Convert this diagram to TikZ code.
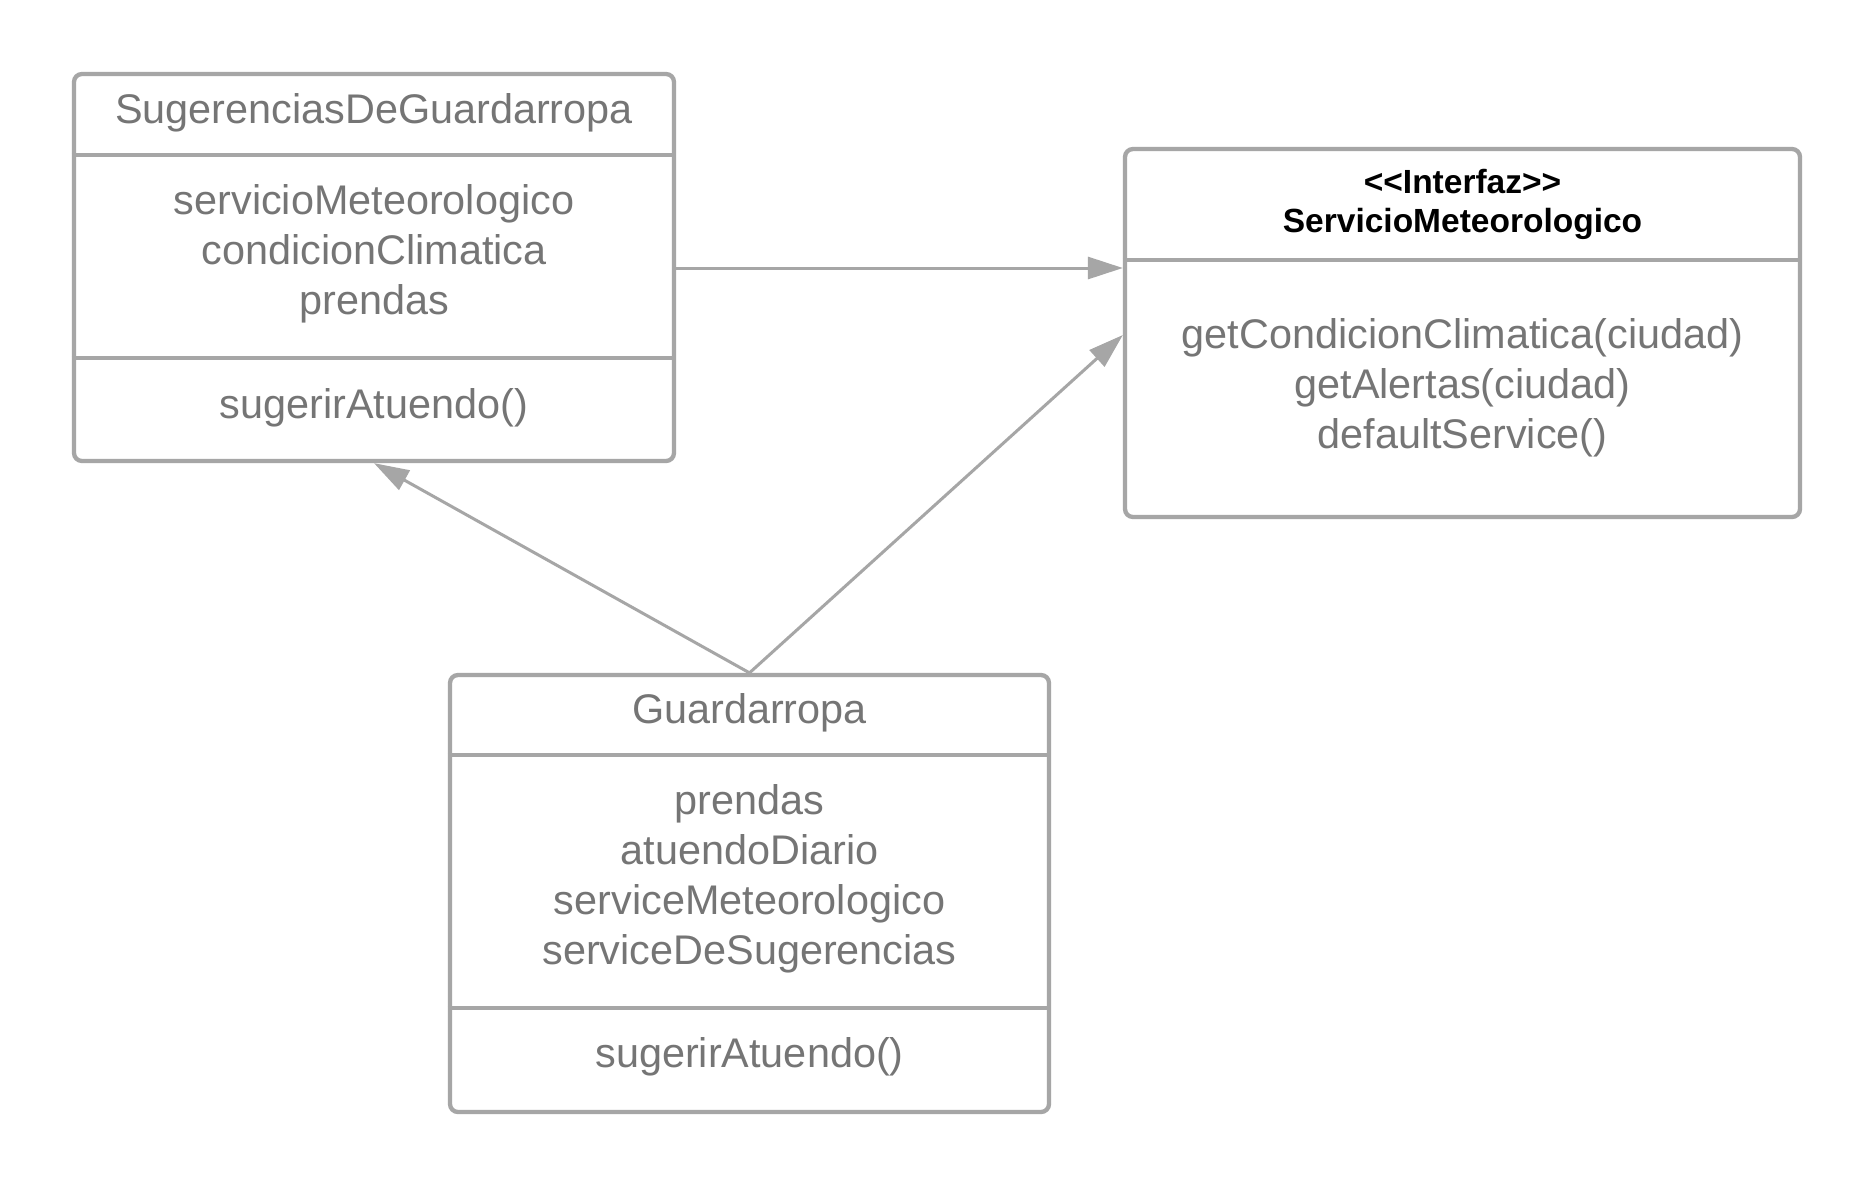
\documentclass[tikz,border=0pt]{standalone}
\usepackage{fontspec}
\setmainfont{Liberation Sans}
\usetikzlibrary{arrows.meta}
\definecolor{linegray}{RGB}{166,166,166}
\definecolor{txtgray}{RGB}{117,117,117}
\begin{document}
\begin{tikzpicture}[x=1pt,y=-1pt,
  box/.style={draw=linegray, line width=4.3pt, rounded corners=8pt, inner sep=0pt},
  sepline/.style={draw=linegray, line width=4.3pt},
  txt/.style={text=txtgray, font=\fontsize{41.4}{50}\selectfont, anchor=base, inner sep=0pt},
  ttl/.style={text=black, font=\fontsize{33.5}{40}\selectfont\bfseries, anchor=base, inner sep=0pt},
  conn/.style={draw=linegray, line width=3pt, -{Triangle[length=35pt,width=22pt]}}]
\useasboundingbox (0,0) rectangle (1875,1187);
\fill[white] (0,0) rectangle (1875,1187);
% boxes
\node[box, minimum width=600pt, minimum height=387pt] (sug) at (374,267.5) {};
\node[box, minimum width=675pt, minimum height=368pt] (svc) at (1462.5,333) {};
\node[box, minimum width=599pt, minimum height=437pt] (gua) at (749.5,893.5) {};
% dividers
\draw[sepline] (sug.west |- 0,155) -- (sug.east |- 0,155);
\draw[sepline] (sug.west |- 0,358) -- (sug.east |- 0,358);
\draw[sepline] (svc.west |- 0,260) -- (svc.east |- 0,260);
\draw[sepline] (gua.west |- 0,755) -- (gua.east |- 0,755);
\draw[sepline] (gua.west |- 0,1008) -- (gua.east |- 0,1008);
% texts box 1
\node[txt] (sugT) at (374,123) {SugerenciasDeGuardarropa};
\node[txt] (sugA1) at (374,214) {servicioMeteorologico};
\node[txt] (sugA2) at (374,264) {condicionClimatica};
\node[txt] (sugA3) at (374,314) {prendas};
\node[txt] (sugM1) at (374,418) {sugerirAtuendo()};
% texts box 2
\node[ttl] (svcS) at (1462.5,193) {<{}<Interfaz>{}>};
\node[ttl] (svcT) at (1462.5,232) {ServicioMeteorologico};
\node[txt] (svcM1) at (1462.5,348) {getCondicionClimatica(ciudad)};
\node[txt] (svcM2) at (1462.5,398) {getAlertas(ciudad)};
\node[txt] (svcM3) at (1462.5,448) {defaultService()};
% texts box 3
\node[txt] (guaT) at (749.5,723) {Guardarropa};
\node[txt] (guaA1) at (749.5,814) {prendas};
\node[txt] (guaA2) at (749.5,864) {atuendoDiario};
\node[txt] (guaA3) at (749.5,914) {serviceMeteorologico};
\node[txt] (guaA4) at (749.5,964) {serviceDeSugerencias};
\node[txt] (guaM1) at (749.5,1067) {sugerirAtuendo()};
% connectors
\draw[conn] (sug.east |- 0,268) -- (svc.west |- 0,268);
\draw[conn] (gua.north) -- (sug.south);
\draw[conn] (gua.north) -- (svc.west |- 0,335);
\end{tikzpicture}
\end{document}
